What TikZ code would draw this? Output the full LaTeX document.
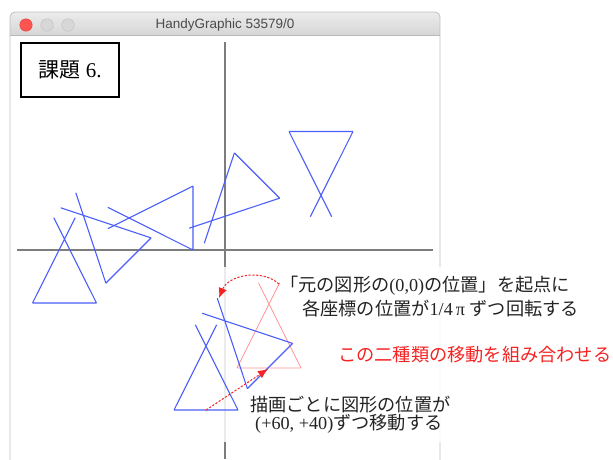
\documentclass[tikz,border=0pt]{standalone}
\usepackage{fontspec}
\setmainfont{Liberation Serif}
\newfontfamily\jp{Noto Sans CJK JP}
\newfontfamily\uisans{Liberation Sans}
\usetikzlibrary{arrows.meta}
\definecolor{shapeblue}{RGB}{75,95,250}
\definecolor{pinkshape}{RGB}{255,150,150}
\definecolor{annred}{RGB}{245,35,35}
\definecolor{axisgray}{RGB}{125,125,125}
\definecolor{txt}{RGB}{35,35,35}
\newcommand\handyshape[4]{%
  \begin{scope}[shift={(#1,#2)}, rotate=#3]
    \draw[#4] (-32,0) -- (32,0) (-32,0) -- (10.65,-85.2) (32,0) -- (-10.65,-85.2);
  \end{scope}}
\begin{document}
\begin{tikzpicture}[x=1pt,y=-1pt,
  fig/.style={draw=shapeblue, line width=1.1pt},
  figpink/.style={draw=pinkshape, line width=0.8pt},
  annarrow/.style={draw=annred, line width=1pt, dash pattern=on 2.2pt off 1.6pt, -{Latex[length=10pt,width=8.5pt]}},
  ann/.style={anchor=west, inner sep=0, text=txt, font=\fontsize{18.2}{20}\selectfont},
  annr/.style={ann, text=annred}]
\useasboundingbox (0,0) rectangle (613,459);
\fill[white] (0,0) rectangle (613,459);
% window
\begin{scope}
  \clip[rounded corners=5] (10,12) rectangle (440,480);
  \fill[white] (10,12) rectangle (440,480);
  \shade[top color={rgb,255:red,236;green,236;blue,236}, bottom color={rgb,255:red,214;green,214;blue,214}] (10,12) rectangle (440,35);
\end{scope}
\draw[draw={rgb,255:red,190;green,190;blue,190}, line width=0.8pt, rounded corners=5] (10,12) rectangle (440,480);
\draw[draw={rgb,255:red,185;green,185;blue,185}, line width=0.6pt] (10,35) -- (440,35);
\node[circle, fill={rgb,255:red,252;green,85;blue,80}, draw={rgb,255:red,225;green,70;blue,65}, line width=0.4pt, minimum size=12.5, inner sep=0] (tl1) at (26,25) {};
\node[circle, fill={rgb,255:red,215;green,215;blue,215}, draw={rgb,255:red,195;green,195;blue,195}, line width=0.5pt, minimum size=12.5, inner sep=0] (tl2) at (47,25) {};
\node[circle, fill={rgb,255:red,215;green,215;blue,215}, draw={rgb,255:red,195;green,195;blue,195}, line width=0.5pt, minimum size=12.5, inner sep=0] (tl3) at (68,25) {};
\node[text={rgb,255:red,75;green,75;blue,75}, font=\uisans\fontsize{13.5}{15}\selectfont, inner sep=0] (title) at (225,25) {HandyGraphic 53579/0};
% axes
\draw[axisgray, line width=2pt] (225,42) -- (225,459);
\draw[axisgray, line width=2pt] (17,250) -- (433,250);
% label box
\node[draw=black, line width=1.1pt, minimum width=98, minimum height=54, inner sep=0, font=\fontsize{21}{23}\selectfont] (kadai) at (70,70) {{\jp 課題}~6.};
% program shapes
\handyshape{64.5}{303}{0}{fig}
\handyshape{128.5}{260.5}{45}{fig}
\handyshape{193}{218}{90}{fig}
\handyshape{257}{175.5}{135}{fig}
\handyshape{321}{131.5}{180}{fig}
% annotation overlay
\fill[white, opacity=0.85] (224,267) rectangle (613,442);
\handyshape{269}{368}{0}{figpink}
\handyshape{206}{410}{0}{fig}
\handyshape{270}{366}{45}{fig}
\coordinate (m0) at (206,410);
\coordinate (m1) at (268,369);
\coordinate (c0) at (279,284);
\coordinate (c1) at (219,298);
\draw[annarrow] (m0) -- (m1);
\draw[annarrow] (c0) to[bend right=55] (c1);
\node[ann] (t1) at (280,286) {{\jp 「元の図形の}(0,0){\jp の位置」を起点に}};
\node[ann] (t2) at (302,309) {{\jp 各座標の位置が}1/4\,π {\jp ずつ回転する}};
\node[annr] (t3) at (338,355) {{\jp この二種類の移動を組み合わせる}};
\node[ann] (t4) at (250,405) {{\jp 描画ごとに図形の位置が}};
\node[ann] (t5) at (255,423.5) {(+60, +40){\jp ずつ移動する}};
\end{tikzpicture}
\end{document}
